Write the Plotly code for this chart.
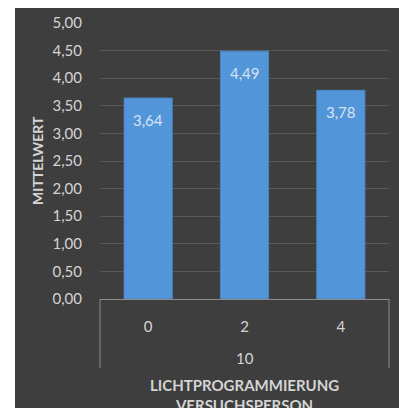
import plotly.graph_objects as go

# ---- data ----
group_label = "10"
categories = ["0", "2", "4"]
values = [3.64, 4.49, 3.78]
y_ticks = [0, 0.5, 1, 1.5, 2, 2.5, 3, 3.5, 4, 4.5, 5]
x_title = "LICHTPROGRAMMIERUNG<br>VERSUCHSPERSON"
y_title = "MITTELWERT"

FONT = "Lato"
TXT = "#d4d4d4"
LINE = "#8c8c8c"

W, H = 399, 408
L, R, T, B = 100, 10, 23, 109
pw, ph = W - L - R, H - T - B


def py(px):
    """pixel row -> paper y"""
    return (H - B - px) / ph


bg_svg = (
    "data:image/svg+xml;utf8,"
    "<svg xmlns='http://www.w3.org/2000/svg' width='384' height='400' preserveAspectRatio='none'>"
    "<defs><radialGradient id='g' cx='50%25' cy='58%25' r='72%25'>"
    "<stop offset='0%25' stop-color='%234b4b4b'/>"
    "<stop offset='100%25' stop-color='%23303030'/>"
    "</radialGradient></defs>"
    "<rect width='384' height='400' fill='url(%23g)'/></svg>"
)

fig = go.Figure()
fig.add_trace(go.Bar(
    x=categories,
    y=values,
    width=0.5,
    marker=dict(color="#5395d9", line=dict(color="#4a86c2", width=1)),
    hoverinfo="skip",
))

for i, v in enumerate(values):
    fig.add_annotation(
        x=i, y=v, xref="x", yref="y",
        text=f"{v:.2f}".replace(".", ","),
        showarrow=False, yanchor="top", yshift=-11,
        font=dict(family=FONT, size=15, color="#d6e4f2"),
    )

# group label and brackets of the two-level category axis
fig.add_annotation(
    x=0.5, y=py(358), xref="paper", yref="paper", text=group_label,
    showarrow=False, yanchor="middle",
    font=dict(family=FONT, size=15, color=TXT),
)
fig.add_annotation(
    x=0.5, y=py(374), xref="paper", yref="paper", text=x_title,
    showarrow=False, yanchor="top",
    font=dict(family=FONT, size=15, color=TXT, weight="bold"),
)
fig.add_annotation(
    x=(37 - L) / pw, y=0.5, xref="paper", yref="paper", text=y_title,
    showarrow=False, textangle=-90, xanchor="center",
    font=dict(family=FONT, size=14, color=TXT, weight="bold"),
)
for xp in (0, 1):
    fig.add_shape(type="line", xref="paper", yref="paper",
                  x0=xp, x1=xp, y0=0, y1=py(368),
                  line=dict(color=LINE, width=1))

fig.add_shape(type="rect", xref="paper", yref="paper",
              x0=(15 - L) / pw, x1=(W - L) / pw, y0=py(H), y1=py(8),
              fillcolor="#3e3e3e", line=dict(width=0), layer="below")
fig.add_layout_image(
    source=bg_svg, xref="paper", yref="paper",
    x=(15 - L) / pw, y=py(8),
    sizex=(W - 15) / pw, sizey=(H - 8) / ph,
    xanchor="left", yanchor="top", sizing="stretch", layer="below",
)

fig.update_layout(
    width=W, height=H,
    margin=dict(l=L, r=R, t=T, b=B, pad=0),
    paper_bgcolor="white",
    plot_bgcolor="rgba(0,0,0,0)",
    separators=",.",
    showlegend=False,
    bargap=0.5,
    font=dict(family=FONT, size=15, color=TXT),
    xaxis=dict(
        type="category",
        range=[-0.5, len(categories) - 0.5],
        showline=True, linecolor=LINE, linewidth=1,
        ticks="", ticklabelstandoff=14,
        tickfont=dict(family=FONT, size=15, color=TXT),
        showgrid=False,
    ),
    yaxis=dict(
        range=[0, 5], tickvals=y_ticks, tickformat=".2f",
        showgrid=True, gridcolor="#585858", gridwidth=1,
        zeroline=False, showline=False, ticks="",
        ticklabelstandoff=17,
        tickfont=dict(family=FONT, size=15, color=TXT),
    ),
)

fig.write_html("out.html")
